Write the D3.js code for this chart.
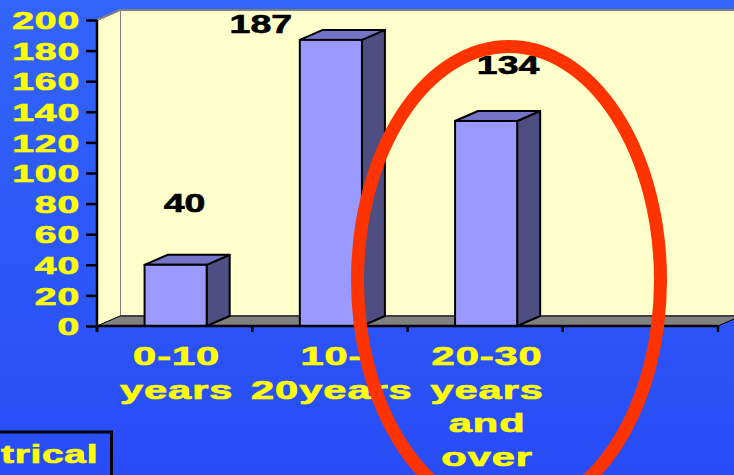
<!DOCTYPE html>
<html>
<head>
<meta charset="utf-8">
<script src="https://cdn.jsdelivr.net/npm/d3@7"></script>
<style>
  html, body { margin: 0; padding: 0; overflow: hidden; background: #2a4ef8; }
  svg { display: block; }
  text { font-family: "Liberation Sans", Arial, sans-serif; font-weight: bold; }
</style>
</head>
<body>
<svg id="chart" width="734" height="475"></svg>
<script>
// Years of service buckets (the last slot is left empty on the axis)
const categories = [["0-10", "years"], ["10-", "20years"], ["20-30", "years", "and", "over"], []];
const counts = [40, 187, 134, null];
const yTicks = [0, 20, 40, 60, 80, 100, 120, 140, 160, 180, 200];
// where each value label sits relative to the front-top corner of its column
const labelShift = [[10, -53], [-69, -7], [23, -47]];

const W = 734, H = 475;
const svg = d3.select("#chart");

const depth = { dx: 23, dy: -10 };
const x = d3.scaleBand().domain(d3.range(categories.length)).range([97, 718]).padding(0);
const y = d3.scaleLinear().domain([0, 200]).range([326, 20]);
const stretch = 1.63;

// page background
const defs = svg.append("defs");
const bg = defs.append("linearGradient").attr("id", "bg").attr("x1", 0).attr("y1", 0).attr("x2", 0).attr("y2", 1);
bg.append("stop").attr("offset", "0%").attr("stop-color", "#3364fa");
bg.append("stop").attr("offset", "100%").attr("stop-color", "#284cf7");
svg.append("rect").attr("width", W).attr("height", H).attr("fill", "url(#bg)");

const x0 = x.range()[0], x1 = x.range()[1];
const yTop = y(200), yBase = y(0);

// back wall
svg.append("rect")
  .attr("x", x0 + depth.dx).attr("y", yTop + depth.dy)
  .attr("width", W - x0).attr("height", yBase - yTop)
  .attr("fill", "#ffffcc").attr("stroke", "#808080").attr("stroke-width", 2);
// side wall
svg.append("polygon")
  .attr("points", [[x0, yTop], [x0 + depth.dx, yTop + depth.dy], [x0 + depth.dx, yBase + depth.dy], [x0, yBase]].join(" "))
  .attr("fill", "#ffffcc");
svg.append("line")
  .attr("x1", x0).attr("y1", yTop).attr("x2", x0 + depth.dx).attr("y2", yTop + depth.dy)
  .attr("stroke", "#808080").attr("stroke-width", 2);
// floor
svg.append("polygon")
  .attr("points", [[x0, yBase], [x0 + depth.dx, yBase + depth.dy], [x1 + depth.dx, yBase + depth.dy], [x1, yBase]].join(" "))
  .attr("fill", "#808080").attr("stroke", "#000").attr("stroke-width", 1);

// columns
const barW = x.bandwidth() * 0.4;
const bars = svg.append("g").selectAll("g")
  .data(counts.map((v, i) => ({ v, i })).filter(d => d.v != null))
  .join("g");
bars.each(function (d) {
  const g = d3.select(this);
  const left = x(d.i) + x.bandwidth() / 2 - barW / 2 + 1, right = left + barW;
  const top = y(d.v), bottom = y(0);
  g.append("polygon")
    .attr("points", [[right, top], [right + depth.dx, top + depth.dy], [right + depth.dx, bottom + depth.dy], [right, bottom]].join(" "))
    .attr("fill", "#4e4e82").attr("stroke", "#000").attr("stroke-width", 2).attr("stroke-linejoin", "round");
  g.append("polygon")
    .attr("points", [[left, top], [left + depth.dx, top + depth.dy], [right + depth.dx, top + depth.dy], [right, top]].join(" "))
    .attr("fill", "#7474c6").attr("stroke", "#000").attr("stroke-width", 2).attr("stroke-linejoin", "round");
  g.append("rect")
    .attr("x", left).attr("y", top).attr("width", barW).attr("height", bottom - top)
    .attr("fill", "#9999ff").attr("stroke", "#000").attr("stroke-width", 2);
});

// value axis
const yAxis = d3.axisLeft(y).tickValues(yTicks).tickSize(11).tickSizeOuter(0).tickPadding(0);
const ya = svg.append("g").attr("transform", `translate(${x0},0)`).call(yAxis);
ya.select(".domain").attr("stroke", "#000").attr("stroke-width", 2.5).attr("d", `M0,${yTop}V${yBase + 6}`);
ya.selectAll(".tick line").attr("stroke", "#000").attr("stroke-width", 2.5);
ya.selectAll(".tick text")
  .attr("x", 0).attr("dy", "0.36em")
  .attr("transform", `translate(-17,0) scale(${stretch},1)`)
  .attr("fill", "#ffff00").attr("stroke", "#ffff00").attr("stroke-width", 0.7)
  .attr("font-size", 24).attr("letter-spacing", 0.5)
  .attr("font-family", "'Liberation Sans', Arial, sans-serif").attr("font-weight", "bold");

// category axis: base line and boundary ticks
svg.append("line")
  .attr("x1", x0).attr("x2", x1).attr("y1", yBase).attr("y2", yBase)
  .attr("stroke", "#000").attr("stroke-width", 2.5);
const bounds = x.domain().map(i => x(i)).concat([x1]);
svg.append("g").selectAll("line").data(bounds).join("line")
  .attr("x1", d => d).attr("x2", d => d).attr("y1", yBase).attr("y2", yBase + 6)
  .attr("stroke", "#000").attr("stroke-width", 2.5);

// category labels
const catG = svg.append("g").selectAll("g").data(categories).join("g")
  .attr("transform", (d, i) => `translate(${x(i) + x.bandwidth() / 2 + 2},365)`);
catG.selectAll("text").data(d => d).join("text")
  .attr("transform", (d, j) => `translate(0,${j * 33.7}) scale(${stretch},1)`)
  .attr("text-anchor", "middle").attr("fill", "#ffff00")
  .attr("stroke", "#ffff00").attr("stroke-width", 0.7)
  .attr("font-size", 25.5).attr("letter-spacing", 0.6)
  .text(d => d);

// value labels
svg.append("g").selectAll("text")
  .data(counts.map((v, i) => ({ v, i })).filter(d => d.v != null))
  .join("text")
  .attr("transform", d => `translate(${x(d.i) + x.bandwidth() / 2 + labelShift[d.i][0]},${y(d.v) + labelShift[d.i][1]}) scale(1.5,1)`)
  .attr("text-anchor", "middle").attr("fill", "#000").attr("stroke", "#000").attr("stroke-width", 0.6)
  .attr("font-size", 25)
  .text(d => d.v);

// highlight ring around the last group
svg.append("ellipse")
  .attr("cx", 509).attr("cy", 280).attr("rx", 151.5).attr("ry", 233.5)
  .attr("fill", "none").attr("stroke", "#ff3300").attr("stroke-width", 13);

// caption box at the lower left
svg.append("rect").attr("x", -6).attr("y", 432).attr("width", 117.5).attr("height", 60)
  .attr("fill", "none").attr("stroke", "#000").attr("stroke-width", 3);
svg.append("text")
  .attr("transform", `translate(1,463) scale(1.55,1)`)
  .attr("fill", "#ffff00").attr("stroke", "#ffff00").attr("stroke-width", 0.7)
  .attr("font-size", 25).attr("letter-spacing", 0.5)
  .text("trical");
</script>
</body>
</html>
